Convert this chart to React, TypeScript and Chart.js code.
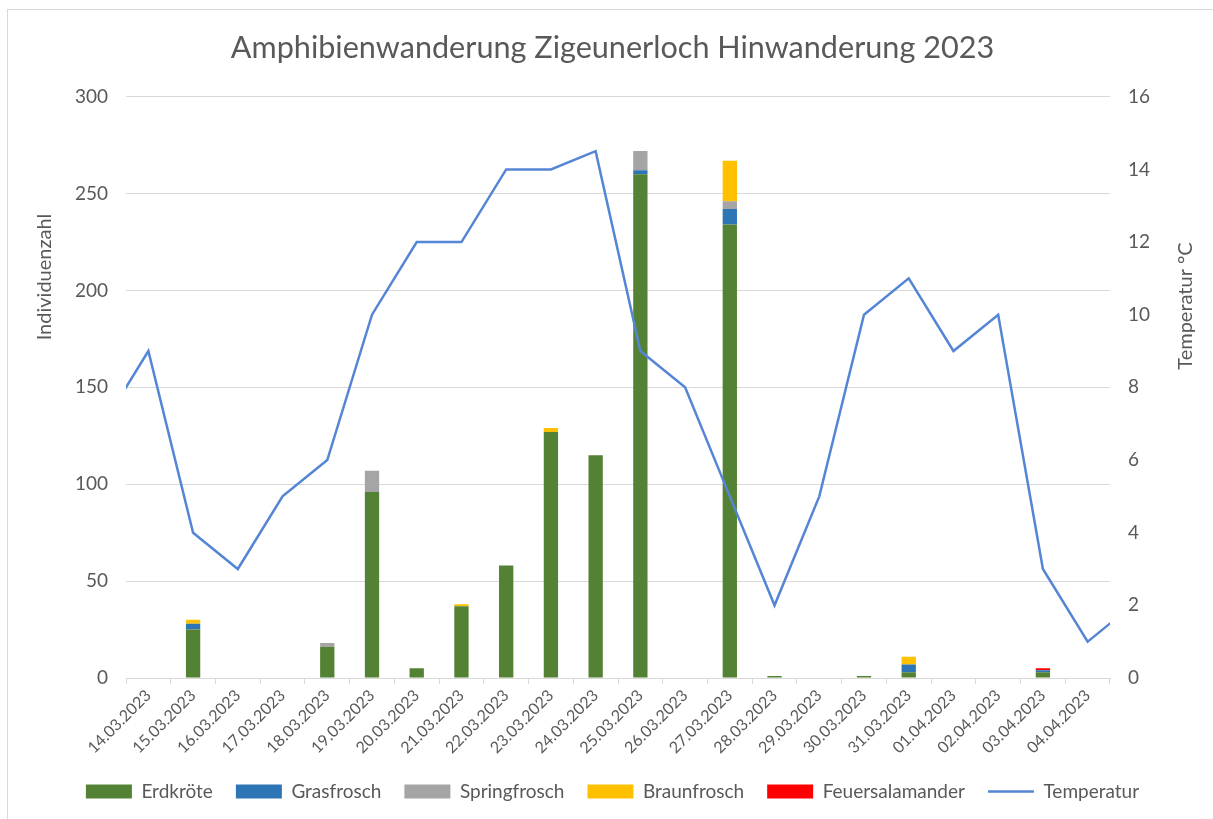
import React, { useEffect, useRef } from "react";
import { Chart, registerables } from "chart.js";

Chart.register(...registerables);

const chartTitle = "Amphibienwanderung Zigeunerloch Hinwanderung 2023";
const leftAxisTitle = "Individuenzahl";
const rightAxisTitle = "Temperatur °C";

const categories = [
  "14.03.2023", "15.03.2023", "16.03.2023", "17.03.2023", "18.03.2023", "19.03.2023",
  "20.03.2023", "21.03.2023", "22.03.2023", "23.03.2023", "24.03.2023", "25.03.2023",
  "26.03.2023", "27.03.2023", "28.03.2023", "29.03.2023", "30.03.2023", "31.03.2023",
  "01.04.2023", "02.04.2023", "03.04.2023", "04.04.2023",
];

const erdkroete = [0, 25, 0, 0, 16, 96, 5, 37, 58, 127, 115, 260, 0, 234, 1, 0, 1, 3, 0, 0, 3, 0];
const grasfrosch = [0, 3, 0, 0, 0, 0, 0, 0, 0, 0, 0, 2, 0, 8, 0, 0, 0, 4, 0, 0, 1, 0];
const springfrosch = [0, 0, 0, 0, 2, 11, 0, 0, 0, 0, 0, 10, 0, 4, 0, 0, 0, 0, 0, 0, 0, 0];
const braunfrosch = [0, 2, 0, 0, 0, 0, 0, 1, 0, 2, 0, 0, 0, 21, 0, 0, 0, 4, 0, 0, 0, 0];
const feuersalamander = [0, 0, 0, 0, 0, 0, 0, 0, 0, 0, 0, 0, 0, 0, 0, 0, 0, 0, 0, 0, 1, 0];

const temperatur = [9, 4, 3, 5, 6, 10, 12, 12, 14, 14, 14.5, 9, 8, 5, 2, 5, 10, 11, 9, 10, 3, 1];
// neighbouring days, only partly visible at the plot edges
const temperaturVortag = 7;
const temperaturFolgetag = 2;

const yLeftTicks = { min: 0, max: 300, step: 50 };
const yRightTicks = { min: 0, max: 16, step: 2 };

const FONT = "Lato";
const TEXT = "#595959";
const GRID = "#d9d9d9";

const axisTitlePlugin = {
  id: "axisTitles",
  afterDraw(chart: any) {
    const ctx = chart.ctx;
    ctx.save();
    ctx.font = `20px ${FONT}`;
    ctx.fillStyle = TEXT;
    ctx.textAlign = "center";
    ctx.textBaseline = "middle";
    ctx.save();
    ctx.translate(45, 277);
    ctx.rotate(-Math.PI / 2);
    ctx.fillText(leftAxisTitle, 0, 0);
    ctx.restore();
    ctx.save();
    ctx.translate(1186, 306);
    ctx.rotate(-Math.PI / 2);
    ctx.fillText(rightAxisTitle, 0, 0);
    ctx.restore();
    ctx.restore();
  },
};

export default function App() {
  const canvasRef = useRef<HTMLCanvasElement>(null);

  useEffect(() => {
    if (!canvasRef.current) return;
    const lineData = [
      { x: -1, y: temperaturVortag },
      ...temperatur.map((t, i) => ({ x: i, y: t })),
      { x: categories.length, y: temperaturFolgetag },
    ];
    const barDs = (label: string, data: number[], color: string) => ({
      type: "bar" as const,
      label,
      data,
      backgroundColor: color,
      borderColor: color,
      borderWidth: 0,
      xAxisID: "x",
      yAxisID: "y",
      stack: "amphibien",
      grouped: false,
      barPercentage: 0.32,
      categoryPercentage: 1,
      order: 0,
    });
    const chart = new Chart(canvasRef.current, {
      data: {
        labels: categories,
        datasets: [
          barDs("Erdkröte", erdkroete, "#548235"),
          barDs("Grasfrosch", grasfrosch, "#2e75b6"),
          barDs("Springfrosch", springfrosch, "#a5a5a5"),
          barDs("Braunfrosch", braunfrosch, "#ffc000"),
          barDs("Feuersalamander", feuersalamander, "#ff0000"),
          {
            type: "line" as const,
            label: "Temperatur",
            data: lineData as any,
            borderColor: "#5585d5",
            backgroundColor: "#5585d5",
            borderWidth: 2.5,
            pointRadius: 0,
            tension: 0,
            xAxisID: "xl",
            yAxisID: "y1",
            order: -1,
          },
        ],
      } as any,
      options: {
        responsive: false,
        animation: false,
        devicePixelRatio: 1,
        layout: { padding: { left: 12, right: 0, top: 0, bottom: 8 } },
        scales: {
          x: {
            type: "category",
            stacked: true,
            offset: true,
            grid: {
              display: true,
              drawOnChartArea: false,
              drawTicks: true,
              tickLength: 6,
              color: GRID,
              offset: true,
            },
            border: { display: true, color: GRID, width: 1 },
            ticks: {
              autoSkip: false,
              minRotation: 45,
              maxRotation: 45,
              color: TEXT,
              font: { family: FONT, size: 16 },
              padding: 2,
            },
            afterFit: (s: any) => {
              s.height = 81;
            },
          },
          xl: {
            type: "linear",
            display: false,
            min: -0.5,
            max: categories.length - 0.5,
          },
          y: {
            position: "left",
            stacked: true,
            min: yLeftTicks.min,
            max: yLeftTicks.max,
            ticks: {
              stepSize: yLeftTicks.step,
              color: TEXT,
              font: { family: FONT, size: 19 },
              padding: 18,
            },
            grid: { color: GRID, drawTicks: false, lineWidth: 1 },
            border: { display: false },
            afterFit: (s: any) => {
              s.width = 114;
            },
          },
          y1: {
            position: "right",
            min: yRightTicks.min,
            max: yRightTicks.max,
            ticks: {
              stepSize: yRightTicks.step,
              color: TEXT,
              font: { family: FONT, size: 19 },
              padding: 18,
            },
            grid: { display: false, drawTicks: false },
            border: { display: false },
            afterFit: (s: any) => {
              s.width = 103;
            },
          },
        } as any,
        plugins: {
          title: {
            display: true,
            text: chartTitle,
            color: TEXT,
            font: { family: FONT, size: 30.6, weight: "normal" },
            padding: { top: 30, bottom: 30 },
          },
          legend: {
            display: true,
            position: "bottom",
            labels: {
              usePointStyle: true,
              pointStyleWidth: 46,
              boxWidth: 46,
              boxHeight: 14,
              padding: 23,
              color: TEXT,
              font: { family: FONT, size: 19 },
              sort: (a: any, b: any) => a.datasetIndex - b.datasetIndex,
              generateLabels: (c: any) => {
                const items = Chart.defaults.plugins.legend.labels.generateLabels(c);
                return items.map((it: any) => {
                  const ds = c.data.datasets[it.datasetIndex];
                  if (ds.type === "line") {
                    return { ...it, pointStyle: "line", lineWidth: 2.5, strokeStyle: ds.borderColor };
                  }
                  return { ...it, pointStyle: "rect", lineWidth: 0 };
                });
              },
            },
          },
          tooltip: { enabled: false },
        },
      } as any,
      plugins: [axisTitlePlugin],
    });
    return () => chart.destroy();
  }, []);

  return (
    <div
      style={{
        position: "absolute",
        left: 0,
        top: 0,
        width: 1213,
        height: 819,
        background: "#ffffff",
        overflow: "hidden",
      }}
    >
      <div
        style={{
          position: "absolute",
          left: 7,
          top: 9,
          width: 1230,
          height: 840,
          borderTop: `1px solid ${GRID}`,
          borderLeft: `1px solid ${GRID}`,
        }}
      />
      <canvas
        ref={canvasRef}
        width={1213}
        height={819}
        style={{ position: "absolute", left: 0, top: 0, width: 1213, height: 819 }}
      />
    </div>
  );
}
